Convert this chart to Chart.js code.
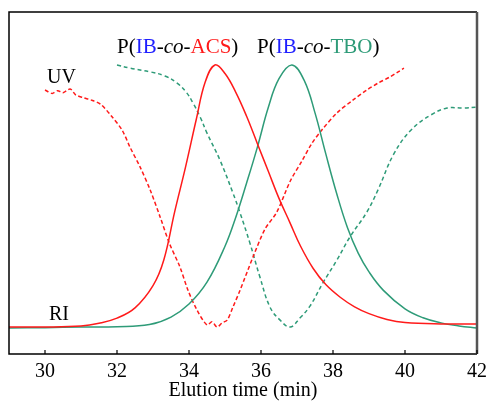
<!DOCTYPE html>
<html>
<head>
<meta charset="utf-8">
<script src="https://cdn.jsdelivr.net/npm/chart.js@4"></script>
<style>
  html, body { margin: 0; padding: 0; background: #fff; }
  #wrap { width: 489px; height: 405px; position: relative; }
</style>
</head>
<body>
<div id="wrap"><canvas id="chart"></canvas></div>
<script>
const RED = "#ff1a1a";
const GREEN = "#2e9b78";
const BLUE = "#1f1fff";

// elution time (min) / detector signal (arbitrary, 0-100)
const acsRiTime = [29, 30, 31, 31.5, 32, 32.5, 33, 33.3, 33.6, 33.9, 34.2, 34.45, 34.72, 35.0, 35.3, 35.6, 35.9, 36.2, 36.5, 36.8, 37.1, 37.45, 37.8, 38.2, 38.6, 39.0, 39.5, 40, 41, 42];
const acsRiSignal = [7.9, 7.9, 8.2, 9.0, 10.5, 13.5, 20.0, 27.5, 41.5, 54.5, 68.5, 79.5, 84.5, 82.0, 76.5, 69.5, 61.5, 53.5, 45.5, 38.5, 31.5, 25.0, 20.3, 16.6, 13.8, 11.8, 10.1, 9.2, 8.8, 8.8];

const tboRiTime = [29, 30, 31, 32, 32.9, 33.5, 34.0, 34.5, 35.0, 35.3, 35.6, 35.9, 36.2, 36.5, 36.86, 37.2, 37.5, 37.8, 38.1, 38.4, 38.7, 39.0, 39.4, 40.0, 40.5, 41.0, 41.5, 42];
const tboRiSignal = [7.6, 7.7, 7.9, 8.0, 8.6, 10.8, 14.6, 21.0, 31.5, 40.0, 50.0, 60.5, 72.0, 80.5, 84.5, 80.0, 70.5, 58.5, 47.0, 37.0, 29.5, 24.0, 18.6, 13.2, 10.6, 9.1, 8.2, 7.6];

const acsUvTime = [30.0, 30.2, 30.35, 30.5, 30.7, 30.85, 31.05, 31.3, 31.55, 31.85, 32.14, 32.36, 32.64, 32.92, 33.2, 33.45, 33.75, 33.97, 34.22, 34.5, 34.64, 34.78, 34.92, 35.06, 35.22, 35.42, 35.78, 36.11, 36.44, 36.81, 37.14, 37.42, 37.69, 38.11, 38.56, 38.94, 39.25, 39.58, 39.81, 39.97];
const acsUvSignal = [77.2, 76.2, 77.0, 76.4, 77.5, 75.8, 75.0, 74.2, 73.0, 69.5, 65.5, 60.5, 54.7, 48.0, 40.0, 32.5, 25.4, 18.7, 12.9, 8.5, 9.4, 7.9, 9.1, 9.9, 13.7, 18.7, 28.4, 36.5, 41.5, 50.5, 56.5, 61.7, 65.5, 70.5, 74.3, 77.2, 79.2, 81.0, 82.5, 83.6];

const tboUvTime = [32.0, 32.36, 32.92, 33.33, 33.67, 33.92, 34.11, 34.31, 34.5, 34.86, 35.22, 35.42, 35.69, 35.97, 36.25, 36.53, 36.81, 37.08, 37.36, 37.72, 38.11, 38.47, 38.94, 39.25, 39.69, 40.17, 40.72, 41.17, 41.64, 42.0];
const tboUvSignal = [84.5, 83.6, 82.5, 81.3, 79.2, 76.6, 73.4, 69.3, 64.6, 56.7, 47.1, 41.2, 32.5, 22.5, 13.7, 9.9, 7.9, 10.5, 14.0, 20.8, 27.5, 34.2, 41.5, 48.0, 58.5, 65.5, 69.9, 71.9, 71.9, 72.2];

const xTicks = [30, 32, 34, 36, 38, 40, 42];

function points(xs, ys) {
  return xs.map((x, i) => ({ x: x, y: ys[i] }));
}

const SERIF = '"Liberation Serif", "Times New Roman", serif';

// frame, inward ticks and text labels
const decor = {
  id: "decor",
  afterDraw(chart) {
    const ctx = chart.ctx;
    const a = chart.chartArea;
    const xs = chart.scales.x;
    ctx.save();
    ctx.strokeStyle = "#000";
    ctx.lineWidth = 1.5;
    ctx.beginPath();
    ctx.moveTo(a.right, a.top);
    ctx.lineTo(a.left, a.top);
    ctx.lineTo(a.left, a.bottom);
    ctx.lineTo(a.right, a.bottom);
    ctx.stroke();
    ctx.strokeStyle = "#555";
    ctx.lineWidth = 2.5;
    ctx.beginPath();
    ctx.moveTo(a.right, a.top);
    ctx.lineTo(a.right, a.bottom);
    ctx.stroke();

    ctx.strokeStyle = "#000";
    ctx.lineWidth = 1.2;
    xTicks.forEach(t => {
      const px = xs.getPixelForValue(t);
      ctx.beginPath();
      ctx.moveTo(px, a.bottom);
      ctx.lineTo(px, a.bottom - 4);
      ctx.stroke();
    });

    ctx.textBaseline = "alphabetic";
    function runs(x, y, size, parts) {
      parts.forEach(p => {
        ctx.font = (p[2] ? "italic " : "") + size + "px " + SERIF;
        ctx.fillStyle = p[1];
        ctx.fillText(p[0], x, y);
        x += ctx.measureText(p[0]).width;
      });
    }
    runs(117, 53, 21, [["P(", "#000"], ["IB", BLUE], ["-", "#000"], ["co", "#000", true], ["-", "#000"], ["ACS", RED], [")", "#000"]]);
    runs(257, 53, 21, [["P(", "#000"], ["IB", BLUE], ["-", "#000"], ["co", "#000", true], ["-", "#000"], ["TBO", GREEN], [")", "#000"]]);
    runs(47, 83, 20, [["UV", "#000"]]);
    runs(49, 320, 20, [["RI", "#000"]]);
    ctx.restore();
  }
};

new Chart(document.getElementById("chart"), {
  type: "line",
  data: {
    datasets: [
      { data: points(acsRiTime, acsRiSignal), borderColor: RED, borderWidth: 1.5, tension: 0.4 },
      { data: points(tboRiTime, tboRiSignal), borderColor: GREEN, borderWidth: 1.5, tension: 0.4 },
      { data: points(acsUvTime, acsUvSignal), borderColor: RED, borderWidth: 1.5, borderDash: [4, 2.5], tension: 0.3 },
      { data: points(tboUvTime, tboUvSignal), borderColor: GREEN, borderWidth: 1.5, borderDash: [4, 3], tension: 0.4 }
    ]
  },
  options: {
    responsive: true,
    maintainAspectRatio: false,
    animation: false,
    layout: { padding: { left: 9, right: 12, top: 12, bottom: 0 } },
    elements: { point: { radius: 0 } },
    plugins: { legend: { display: false }, tooltip: { enabled: false } },
    scales: {
      x: {
        type: "linear",
        min: 29,
        max: 42,
        afterBuildTicks(scale) { scale.ticks = xTicks.map(v => ({ value: v })); },
        afterFit(scale) { scale.height = 51; scale.paddingLeft = 0; scale.paddingRight = 0; },
        grid: { display: false, drawTicks: false },
        border: { display: false },
        ticks: { color: "#000", font: { family: SERIF, size: 20 }, padding: 6, maxRotation: 0 },
        title: { display: true, text: "Elution time (min)", color: "#000", font: { family: SERIF, size: 20 }, padding: { top: 0, bottom: 2 } }
      },
      y: { display: false, min: 0, max: 100 }
    }
  },
  plugins: [decor]
});
</script>
</body>
</html>
